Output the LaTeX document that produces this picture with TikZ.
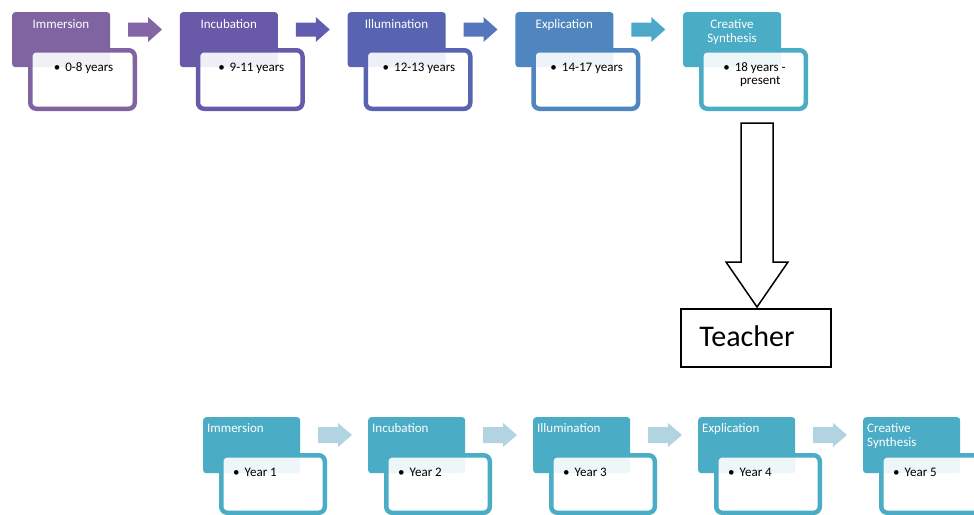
\documentclass[tikz,border=0pt]{standalone}
\usepackage{fontspec}
\setmainfont{Carlito}
\usetikzlibrary{calc}
\definecolor{cA}{RGB}{128,100,162}
\definecolor{cB}{RGB}{104,90,168}
\definecolor{cC}{RGB}{88,100,178}
\definecolor{cD}{RGB}{80,134,192}
\definecolor{cE}{RGB}{75,172,198}
\definecolor{aA}{RGB}{130,102,166}
\definecolor{aB}{RGB}{97,92,175}
\definecolor{aC}{RGB}{84,118,186}
\definecolor{aD}{RGB}{76,168,200}
\definecolor{aL}{RGB}{177,212,224}
\tikzset{
  hdr/.style={fill=#1, rounded corners=3pt, minimum width=98pt, minimum height=55pt, anchor=north west, inner sep=0pt},
  wbox/.style={draw=#1, line width=4.5pt, fill=white, fill opacity=0.9, draw opacity=1, rounded corners=6pt, minimum width=105pt, minimum height=59pt, inner sep=0pt},
  htxt/.style={text=white, font=\fontsize{13}{14}\selectfont, inner sep=0pt},
  btxt/.style={text=black, font=\fontsize{13}{13.5}\selectfont, inner sep=0pt},
}
\newcommand\blockarr[7]{% tail x, tip x, center y, body half, head half, head len, colour
  \fill[#7] (#1,#3-#4) -- (#2-#6,#3-#4) -- (#2-#6,#3-#5) -- (#2,#3) -- (#2-#6,#3+#5) -- (#2-#6,#3+#4) -- (#1,#3+#4) -- cycle;}
\begin{document}
\begin{tikzpicture}[x=1pt,y=-1pt]
\useasboundingbox (0,0) rectangle (974,514);
% ---------- top row ----------
\foreach \i/\nm/\col/\acol/\yr in {0/Immersion/cA/aA/0-8 years,1/Incubation/cB/aB/9-11 years,2/Illumination/cC/aC/12-13 years,3/Explication/cD/aD/14-17 years}{
  \pgfmathsetmacro\xo{12+167.75*\i}
  \node[hdr=\col] (th\i) at (\xo,12) {};
  \node[wbox=\col, minimum width=104.5pt, minimum height=58.5pt] (tw\i) at (\xo+70.5,79.5) {};
  \node[htxt, anchor=base] (tt\i) at (\xo+49,28) {\nm};
  \node[btxt, anchor=base] (tb\i) at (\xo+71.5,71) {•\hspace{5pt}\yr};
  \blockarr{\xo+116}{\xo+150}{29.5}{7}{12.5}{14}{\acol}
}
\node[hdr=cE] (th4) at (683,12) {};
\node[wbox=cE, minimum width=104.5pt, minimum height=58.5pt] (tw4) at (753.5,79.5) {};
\node[htxt, anchor=base] (tt4) at (732,28) {\begin{tabular}[t]{@{}c@{}}Creative\\Synthesis\end{tabular}};
\node[btxt, anchor=base] (tb4) at (754.5,71) {•\hspace{5pt}\begin{tabular}[t]{@{}c@{}}18 years -\\present\end{tabular}};
% ---------- hollow arrow and teacher ----------
\coordinate (tip) at (757,307);
\draw[line width=1.5pt, fill=white, line join=miter] (741,123) -- (773,123) -- (773,262) -- (788,262) -- (tip) -- (726,262) -- (741,262) -- cycle;
\node[draw, line width=1.5pt, minimum width=150pt, minimum height=58pt, inner sep=0pt, anchor=north west] (teacherbox) at (680,308) {};
\node[anchor=base, inner sep=0pt, font=\fontsize{30}{32}\selectfont] (teacher) at (747,346) {Teacher};
% ---------- bottom row ----------
\foreach \i/\yr in {0/Year 1,1/Year 2,2/Year 3,3/Year 4,4/Year 5}{
  \pgfmathsetmacro\xo{203+165*\i}
  \node[hdr=cE, minimum width=97pt, minimum height=56pt] (bh\i) at (\xo,417) {};
  \node[wbox=cE, minimum width=103.5pt, minimum height=57.5pt] (bw\i) at (\xo+70,484) {};
  \node[btxt, anchor=base west] (bb\i) at (\xo+30,476) {•\hspace{5pt}\yr};
}
\foreach \i in {0,1,2,3}{
  \pgfmathsetmacro\xo{203+165*\i}
  \blockarr{\xo+115}{\xo+149}{435}{8}{12}{14}{aL}
}
\node[htxt, anchor=base west] (bt0) at (207,432) {Immersion};
\node[htxt, anchor=base west] (bt1) at (372,432) {Incubation};
\node[htxt, anchor=base west] (bt2) at (537,432) {Illumination};
\node[htxt, anchor=base west] (bt3) at (702,432) {Explication};
\node[htxt, anchor=base west] (bt4) at (867,432) {\begin{tabular}[t]{@{}l@{}}Creative\\Synthesis\end{tabular}};
\end{tikzpicture}
\end{document}
